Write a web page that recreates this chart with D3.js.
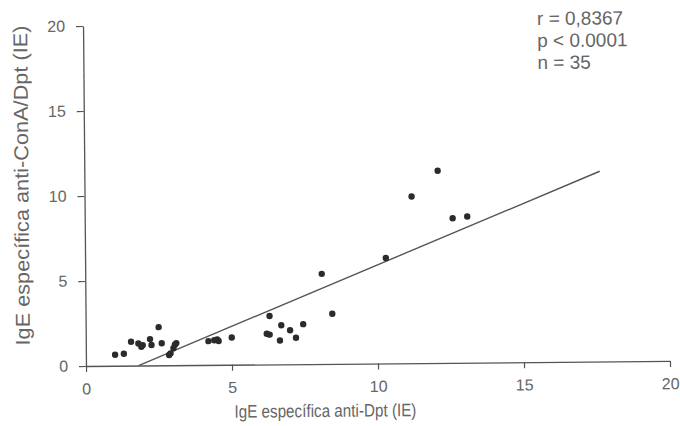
<!DOCTYPE html>
<html>
<head>
<meta charset="utf-8">
<script src="https://cdn.jsdelivr.net/npm/d3@7"></script>
<style>
  body { margin: 0; background: #fff; }
  svg { display: block; }
  text { font-family: "Liberation Sans", Arial, sans-serif; }
</style>
</head>
<body>
<svg width="680" height="426"></svg>
<script>
// IgE anti-Dpt (x) vs IgE anti-ConA/Dpt (y)
const igeDpt = [1.0, 1.3, 1.55, 1.8, 1.9, 1.95, 2.2, 2.25, 2.5, 2.6, 3.1, 3.0, 2.9, 2.85, 3.05,
  4.2, 4.4, 4.5, 4.55, 5.0, 6.2, 6.3, 6.3, 6.7, 6.65, 7.0, 7.2, 7.45, 8.1, 8.45,
  10.3, 11.2, 12.1, 12.6, 13.1];
const igeConA = [0.65, 0.7, 1.4, 1.3, 1.1, 1.2, 1.55, 1.2, 2.25, 1.3, 1.3, 1.0, 0.7, 0.6, 1.2,
  1.4, 1.45, 1.5, 1.4, 1.6, 1.8, 1.75, 2.85, 2.3, 1.4, 2.0, 1.55, 2.35, 5.3, 2.95,
  6.2, 9.8, 11.3, 8.5, 8.6];

const xTicks = [0, 5, 10, 15, 20];
const yTicks = [0, 5, 10, 15, 20];

// regression line, drawn between these x values
const fitSlope = 0.706;
const fitIntercept = -1.27;
const fitRange = [1.8, 17.65];

const statLines = ["r = 0,8367", "p < 0.0001", "n = 35"];

const svg = d3.select("svg");
// the scan is slightly tilted
const g = svg.append("g").attr("transform", "rotate(-0.5, 86, 366)");

const x = d3.scaleLinear().domain([0, 20]).range([86, 670]);
const y = d3.scaleLinear().domain([0, 20]).range([366, 26]);

const axisColor = "#555";
const textColor = "#666";

const xAxis = g.append("g")
  .attr("transform", "translate(0," + y(0) + ")")
  .call(d3.axisBottom(x).tickValues(xTicks).tickSize(6).tickSizeOuter(0).tickPadding(11).tickFormat(d3.format("d")));
const yAxis = g.append("g")
  .attr("transform", "translate(" + x(0) + ",0)")
  .call(d3.axisLeft(y).tickValues(yTicks).tickSize(7).tickSizeOuter(0).tickPadding(11).tickFormat(d3.format("d")));

[xAxis, yAxis].forEach(function (a) {
  a.select(".domain").attr("stroke", axisColor).attr("stroke-width", 1.3);
  a.selectAll(".tick line").attr("stroke", axisColor).attr("stroke-width", 1.2);
  a.selectAll(".tick text").attr("fill", textColor).style("font-size", "16px");
});

// fit line
g.append("line")
  .attr("x1", x(fitRange[0]))
  .attr("y1", y(fitSlope * fitRange[0] + fitIntercept))
  .attr("x2", x(fitRange[1]))
  .attr("y2", y(fitSlope * fitRange[1] + fitIntercept))
  .attr("stroke", "#555")
  .attr("stroke-width", 1.4);

g.selectAll("circle")
  .data(igeDpt.map(function (d, i) { return [d, igeConA[i]]; }))
  .enter()
  .append("circle")
  .attr("cx", function (d) { return x(d[0]); })
  .attr("cy", function (d) { return y(d[1]); })
  .attr("r", 3.2)
  .attr("fill", "#2b2b2b");

// axis titles
g.append("text")
  .attr("x", 325)
  .attr("y", 419)
  .attr("text-anchor", "middle")
  .attr("fill", textColor)
  .style("font-size", "18px")
  .attr("textLength", 182)
  .attr("lengthAdjust", "spacingAndGlyphs")
  .text("IgE específica anti-Dpt (IE)");

g.append("text")
  .attr("transform", "translate(30,185) rotate(-90)")
  .attr("text-anchor", "middle")
  .attr("fill", textColor)
  .style("font-size", "20px")
  .attr("textLength", 320)
  .attr("lengthAdjust", "spacingAndGlyphs")
  .text("IgE específica anti-ConA/Dpt (IE)");

g.selectAll(".stat")
  .data(statLines)
  .enter()
  .append("text")
  .attr("class", "stat")
  .attr("x", 540)
  .attr("y", function (d, i) { return 29 + i * 22; })
  .attr("fill", textColor)
  .style("font-size", "19px")
  .text(function (d) { return d; });
</script>
</body>
</html>
